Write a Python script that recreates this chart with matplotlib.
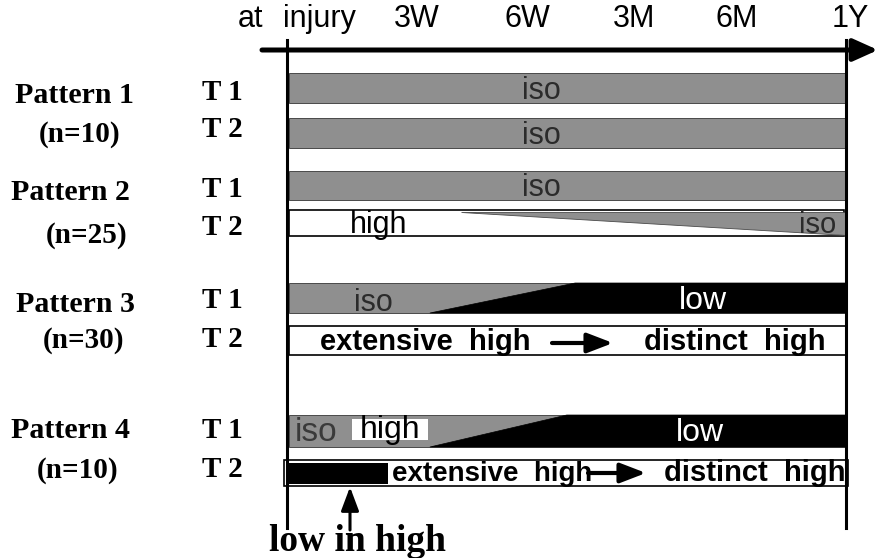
import matplotlib
matplotlib.use("Agg")
import matplotlib.pyplot as plt
from matplotlib.patches import Rectangle, Polygon

# time axis, as fraction of the injury -> 1 year span
tick_labels = ["3W", "6W", "3M", "6M", "1Y"]
tick_times = [0.232, 0.429, 0.621, 0.804, 1.007]

patterns = ["Pattern 1", "Pattern 2", "Pattern 3", "Pattern 4"]
n_cases = [10, 25, 30, 10]
timepoints = ["T 1", "T 2"]

# where the signal changes along the time axis
p2_high_to_iso = 0.31            # start of the iso wedge in pattern 2, T2
p3_iso_to_low = [0.255, 0.515]   # slanted iso -> low boundary (bottom, top)
p4_iso_to_low = [0.255, 0.500]
p4_high_patch = [0.116, 0.252]   # small "high" spot inside iso, pattern 4 T1
p4_low_in_high = 0.180           # black "low in high" block, pattern 4 T2

# ---- layout (pixels) ----
W, H = 878, 558
X0, SPAN = 287.5, 558.5
GRAY = "#8f8f8f"
SANS = "Liberation Sans"
SERIF = "Liberation Serif"


def tx(px):
    return (px - X0) / SPAN


fig = plt.figure(figsize=(W / 100, H / 100), dpi=100)
ax = fig.add_axes([0, 0, 1, 1])
ax.set_xlim(tx(0), tx(W))
ax.set_ylim(H, 0)
ax.axis("off")

row_y = [(73, 103), (118, 148), (171, 200), (210, 236),
         (283, 313), (326, 355), (415, 447), (460, 486)]

# time axis arrow + vertical guide lines
ax.annotate("", xy=(tx(878), 50), xytext=(tx(262), 50),
            arrowprops=dict(arrowstyle="-|>,head_length=1.0,head_width=0.45",
                            lw=3.6, color="black", mutation_scale=15,
                            shrinkA=0, shrinkB=0))
ax.plot([0, 0], [40, 528], color="black", lw=2.2)
ax.plot([1, 1], [40, 528], color="black", lw=2.2)

ax.text(tx(251), 27, "at", ha="center", va="baseline", fontsize=22, family=SANS)
ax.text(tx(283), 27, "injury", ha="left", va="baseline", fontsize=22, family=SANS)
for lab, t in zip(tick_labels, tick_times):
    ax.text(t, 27, lab, ha="center", va="baseline", fontsize=22, family=SANS)

# left labels
pat_x = [74, 70, 75, 70]
pat_base = [103, 200, 312, 438]
n_x = [80, 87, 84, 78]
n_base = [142, 243, 348, 478]
t_base = [100, 137, 197, 235, 308, 347, 438, 477]
for i, (p, n) in enumerate(zip(patterns, n_cases)):
    ax.text(tx(pat_x[i]), pat_base[i], p, ha="center", va="baseline",
            fontsize=21.5, fontweight="bold", family=SERIF)
    ax.text(tx(n_x[i]), n_base[i], f"(n={n})", ha="center", va="baseline",
            fontsize=21, fontweight="bold", family=SERIF)
    for j, tp in enumerate(timepoints):
        ax.text(tx(202), t_base[2 * i + j], tp, ha="left", va="baseline",
                fontsize=21, fontweight="bold", family=SERIF)


def gray_bar(y0, y1):
    ax.add_patch(Rectangle((0.003, y0), 0.997, y1 - y0, fc=GRAY,
                           ec="#4a4a4a", lw=0.7))


def white_box(x0, x1, y0, y1):
    ax.add_patch(Rectangle((x0, y0), x1 - x0, y1 - y0, fc="white",
                           ec="black", lw=1.2))


def label(x, y, s, size=24, color="#2b2b2b", bold=False, ha="center"):
    ax.text(x, y, s, ha=ha, va="baseline", fontsize=size, color=color,
            family=SANS, fontweight="bold" if bold else "normal")


def arrow(x0, x1, y):
    ax.annotate("", xy=(x1, y), xytext=(x0, y),
                arrowprops=dict(arrowstyle="-|>,head_length=1.3,head_width=0.5",
                                lw=3, color="black", mutation_scale=12,
                                shrinkA=0, shrinkB=0))


# pattern 1 and pattern 2 T1: iso all along
for k in (0, 1, 2):
    y0, y1 = row_y[k]
    gray_bar(y0, y1)
    label(0.454, y1 - 4, "iso", size=22)

# pattern 2 T2: high, iso creeping in
y0, y1 = row_y[3]
white_box(0.003, 0.997, y0, y1)
ax.add_patch(Polygon([(p2_high_to_iso, y0 + 2), (1, y0 + 2), (1, y1 - 1)],
                     closed=True, fc=GRAY, ec="#4a4a4a", lw=0.6))
label(tx(379), 233, "high", size=22, color="black")
label(tx(818), 233, "iso", size=21)

# pattern 3 T1: iso -> low
y0, y1 = row_y[4]
gray_bar(y0, y1)
ax.add_patch(Polygon([(p3_iso_to_low[0], y1), (p3_iso_to_low[1], y0), (1, y0), (1, y1)],
                     closed=True, fc="black", ec="black", lw=0.5))
label(tx(373), 311, "iso", size=22)
label(tx(703), 309, "low", size=23, color="white")

# pattern 3 T2: extensive high -> distinct high
y0, y1 = row_y[5]
white_box(0.003, tx(847), y0, y1)
label(tx(320), 350, "extensive  high", size=21, color="black", bold=True, ha="left")
arrow(tx(552), tx(613), 343)
label(tx(735), 350, "distinct  high", size=21, color="black", bold=True)

# pattern 4 T1: iso with a high spot -> low
y0, y1 = row_y[6]
gray_bar(y0, y1)
ax.add_patch(Polygon([(p4_iso_to_low[0], y1), (p4_iso_to_low[1], y0), (1, y0), (1, y1)],
                     closed=True, fc="black", ec="black", lw=0.5))
ax.add_patch(Rectangle((p4_high_patch[0], 419), p4_high_patch[1] - p4_high_patch[0], 21,
                       fc="white", ec="none"))
label(tx(316), 441, "iso", size=24, color="#3a3a3a")
label(tx(390), 438, "high", size=23, color="black")
label(tx(700), 441, "low", size=23, color="white")

# pattern 4 T2: low in high, extensive high -> distinct high
y0, y1 = row_y[7]
white_box(tx(284), tx(848), y0, y1)
ax.add_patch(Rectangle((tx(286), y0 + 3), p4_low_in_high - tx(286), y1 - y0 - 5,
                       fc="black", ec="none"))
label(tx(392), 481, "extensive  high", size=20, color="black", bold=True, ha="left")
arrow(tx(588), tx(646), 473)
label(tx(846), 481, "distinct  high", size=21, color="black", bold=True, ha="right")

# "low in high" callout
ax.annotate("", xy=(tx(350), 487), xytext=(tx(350), 530),
            arrowprops=dict(arrowstyle="-|>,head_length=1.2,head_width=0.45",
                            lw=2.2, color="black", mutation_scale=12,
                            shrinkA=0, shrinkB=0))
ax.text(tx(358), 551, "low in high", ha="center", va="baseline", fontsize=27,
        fontweight="bold", family=SERIF)

fig.savefig("out.png", dpi=100)
